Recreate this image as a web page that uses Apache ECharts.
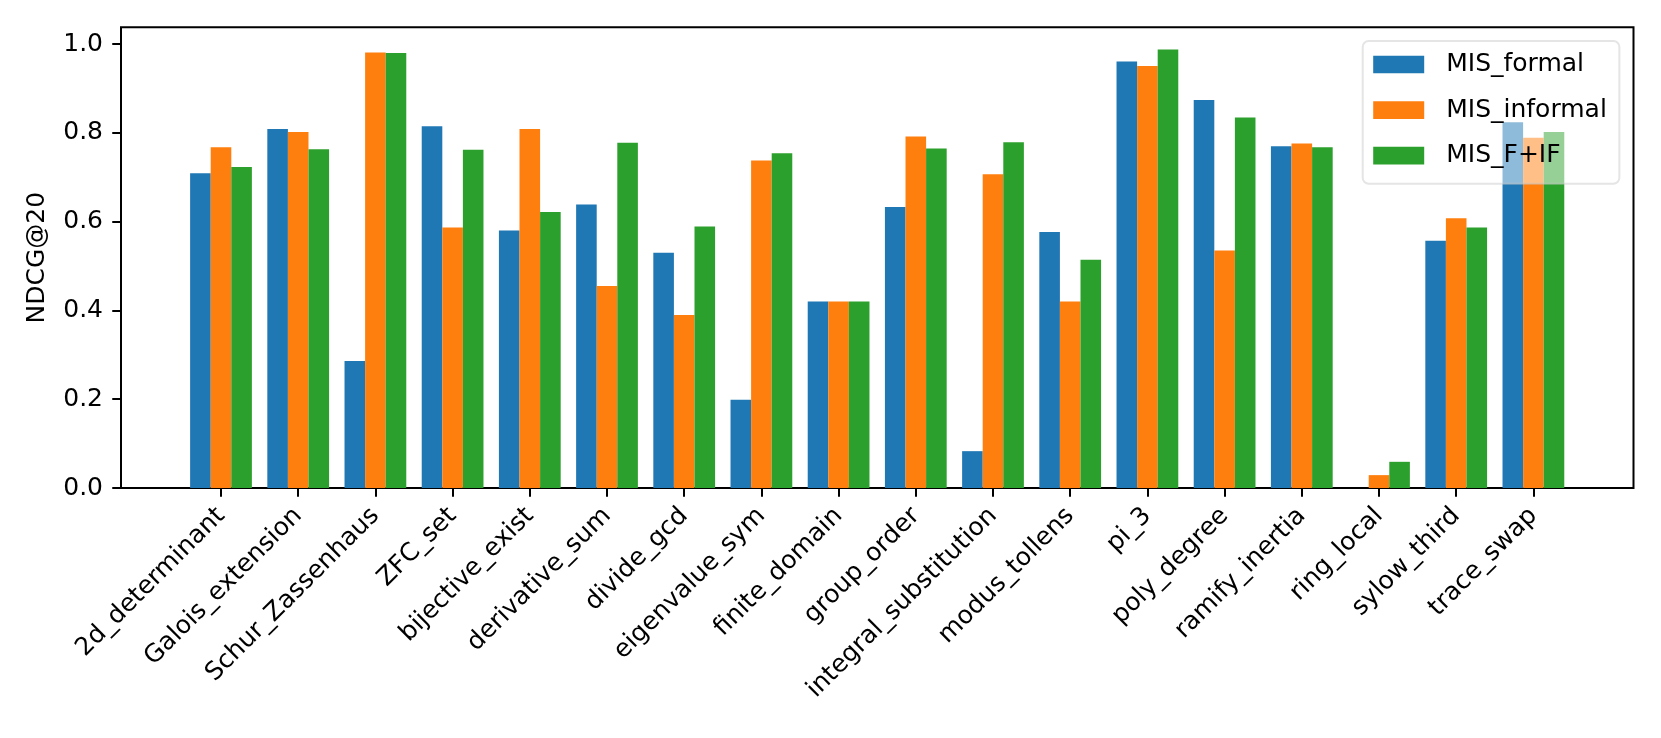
<!DOCTYPE html>
<html>
<head>
<meta charset="utf-8">
<script src="https://cdn.jsdelivr.net/npm/echarts@6/dist/echarts.min.js"></script>
<style>
  html, body { margin: 0; padding: 0; background: #fff; }
  #chart { width: 1661px; height: 738px; }
</style>
</head>
<body>
<div id="chart"></div>
<script>
const categories = [
  '2d_determinant', 'Galois_extension', 'Schur_Zassenhaus', 'ZFC_set', 'bijective_exist',
  'derivative_sum', 'divide_gcd', 'eigenvalue_sym', 'finite_domain', 'group_order',
  'integral_substitution', 'modus_tollens', 'pi_3', 'poly_degree', 'ramify_inertia',
  'ring_local', 'sylow_third', 'trace_swap'
]
const misFormal = [0.709, 0.809, 0.286, 0.815, 0.580, 0.639, 0.530, 0.199, 0.420, 0.633, 0.083, 0.577, 0.961, 0.874, 0.770, 0.0, 0.557, 0.824]
const misInformal = [0.768, 0.802, 0.981, 0.587, 0.809, 0.455, 0.390, 0.738, 0.420, 0.792, 0.707, 0.420, 0.951, 0.535, 0.776, 0.029, 0.608, 0.789]
const misFIF = [0.723, 0.763, 0.980, 0.762, 0.622, 0.778, 0.589, 0.754, 0.420, 0.765, 0.779, 0.514, 0.988, 0.835, 0.768, 0.059, 0.587, 0.802]
const yTicks = [0, 0.2, 0.4, 0.6, 0.8, 1.0]
const yMax = 1.038

const font = 'DejaVu Sans'
const chart = echarts.init(document.getElementById('chart'))

const option = {
  backgroundColor: '#fff',
  animation: false,
  textStyle: { fontFamily: font, color: '#000' },
  grid: [
    // frame (axes box)
    { left: 121, right: 27.5, top: 27.3, bottom: 250, show: true, borderColor: '#000', borderWidth: 2, backgroundColor: 'transparent' },
    // bars area, inset so categories sit where matplotlib puts them
    { left: 182.4, right: 89, top: 27.3, bottom: 250 }
  ],
  legend: {
    orient: 'vertical',
    left: 1362.7,
    top: 41,
    padding: [11, 12.5, 15.5, 10.5],
    icon: 'rect',
    itemWidth: 51,
    itemHeight: 17.7,
    itemGap: 20.6,
    backgroundColor: 'rgba(255,255,255,0.5)',
    borderColor: 'rgba(204,204,204,0.5)',
    borderWidth: 2,
    borderRadius: 6,
    data: ['MIS_formal', 'MIS_informal', 'MIS_F+IF'],
    textStyle: { fontFamily: font, fontSize: 25, color: '#000', lineHeight: 18, padding: [0, 0, 0, 17] }
  },
  xAxis: [
    { type: 'value', gridIndex: 0, show: false, min: 0, max: 1 },
    {
      type: 'category',
      gridIndex: 1,
      data: categories,
      axisLine: { show: false },
      axisTick: { show: true, alignWithLabel: true, length: 8.75, lineStyle: { color: '#000', width: 2 } },
      axisLabel: { rotate: 45, interval: 0, margin: 24, fontFamily: font, fontSize: 25, color: '#000' }
    }
  ],
  yAxis: [
    {
      type: 'value',
      gridIndex: 0,
      min: 0,
      max: yMax,
      name: 'NDCG@20',
      nameLocation: 'middle',
      nameGap: 71,
      nameTextStyle: { fontFamily: font, fontSize: 25, color: '#000' },
      splitLine: { show: false },
      axisLine: { show: false },
      axisTick: { show: true, length: 8.75, customValues: yTicks, lineStyle: { color: '#000', width: 2 } },
      axisLabel: {
        customValues: yTicks,
        margin: 18,
        fontFamily: font,
        fontSize: 25,
        color: '#000',
        formatter: v => v.toFixed(1)
      }
    },
    { type: 'value', gridIndex: 1, show: false, min: 0, max: yMax, splitLine: { show: false } }
  ],
  series: [
    { name: 'MIS_formal', type: 'bar', xAxisIndex: 1, yAxisIndex: 1, data: misFormal, barGap: '0%', barCategoryGap: '20%', itemStyle: { color: '#1f77b4' } },
    { name: 'MIS_informal', type: 'bar', xAxisIndex: 1, yAxisIndex: 1, data: misInformal, barGap: '0%', barCategoryGap: '20%', itemStyle: { color: '#ff7f0e' } },
    { name: 'MIS_F+IF', type: 'bar', xAxisIndex: 1, yAxisIndex: 1, data: misFIF, barGap: '0%', barCategoryGap: '20%', itemStyle: { color: '#2ca02c' } }
  ]
}

chart.setOption(option)
</script>
</body>
</html>
